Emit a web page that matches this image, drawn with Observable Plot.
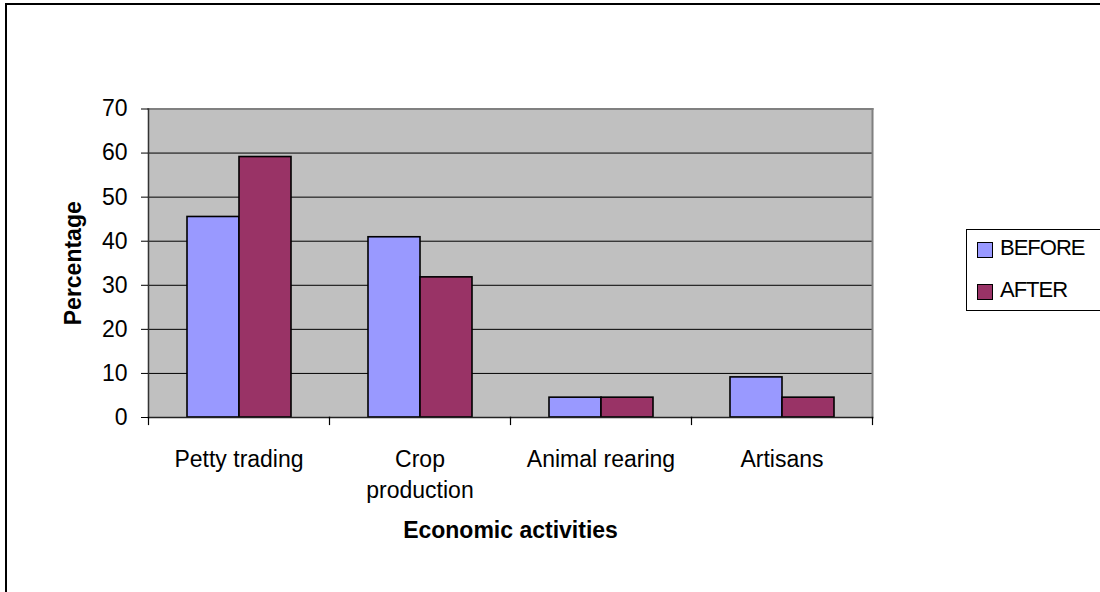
<!DOCTYPE html>
<html>
<head>
<meta charset="utf-8">
<script src="https://cdn.jsdelivr.net/npm/d3@7"></script>
<script src="https://cdn.jsdelivr.net/npm/@observablehq/plot@0.6"></script>
<style>
  html, body { margin: 0; padding: 0; background: #fff; overflow: hidden; }
  #page { position: relative; width: 1100px; height: 592px; overflow: hidden; }
  #edge { position: absolute; left: 5px; top: 3px; width: 1200px; height: 700px;
          border-left: 2px solid #000; border-top: 2px solid #000; }
  #chart { position: absolute; left: 0; top: 0; }
  #legend { position: absolute; left: 966px; top: 229px; width: 160px; height: 80px;
            border: 1.5px solid #000; background: #fff;
            font-family: "Liberation Sans", Arial, sans-serif; font-size: 22px; letter-spacing: -1px; }
  .item { position: absolute; left: 10px; display: flex; align-items: center; }
  .sw { width: 14px; height: 14px; border: 1.5px solid #000; margin-right: 7px; margin-top: 3px; }
</style>
</head>
<body>
<div id="page">
  <div id="edge"></div>
  <div id="chart"></div>
  <div id="legend"></div>
</div>
<script>
// Share of respondents by main economic activity, before and after
const categories = ["Petty trading", "Crop production", "Animal rearing", "Artisans"];
const tickLabels = ["Petty trading", "Crop\nproduction", "Animal rearing", "Artisans"];
const series = ["BEFORE", "AFTER"];
const colors = ["#9999FF", "#993366"];
const before = [45.5, 40.9, 4.5, 9.1];
const after = [59.1, 31.8, 4.5, 4.5];
const yTicks = [0, 10, 20, 30, 40, 50, 60, 70];

const rows = categories.flatMap((c, i) => [
  {category: c, series: "BEFORE", value: before[i]},
  {category: c, series: "AFTER", value: after[i]}
]);

const W = 1100, H = 592;
const mt = 108.5, mb = 175, ml = 148, mr = 228;
const innerH = H - mt - mb;

const chart = Plot.plot({
  width: W,
  height: H,
  marginTop: mt,
  marginBottom: mb,
  marginLeft: ml,
  marginRight: mr,
  style: {fontFamily: "'Liberation Sans', Arial, sans-serif", fontSize: "23px", color: "#000", background: "transparent", overflow: "visible"},
  fx: {domain: categories, padding: 0, label: null, axis: null},
  x: {domain: series, paddingInner: 0, paddingOuter: 0.73, axis: null},
  y: {domain: [0, 70], label: null},
  color: {domain: series, range: colors},
  marks: [
    // plot area background (slightly overlapped so facets join seamlessly) and gridlines
    Plot.frame({fill: "#C0C0C0", stroke: "none", insetLeft: -0.6, insetRight: -0.6}),
    Plot.ruleY(yTicks.filter(d => d > 0 && d < 70), {stroke: "#000", strokeWidth: 1}),
    Plot.frame({anchor: "top", stroke: "#808080", strokeWidth: 2}),
    Plot.frame({anchor: "right", facetAnchor: "right", stroke: "#808080", strokeWidth: 2}),
    // bars
    Plot.barY(rows, {fx: "category", x: "series", y: "value", fill: "series", stroke: "#000", strokeWidth: 1.6}),
    // axis lines and category boundary ticks
    Plot.frame({anchor: "left", facetAnchor: "left", stroke: "#333", strokeWidth: 1.5}),
    Plot.frame({anchor: "bottom", stroke: "#222", strokeWidth: 1.5}),
    Plot.frame({anchor: "left", insetTop: innerH, insetBottom: -7, stroke: "#000", strokeWidth: 1.2}),
    Plot.frame({anchor: "right", facetAnchor: "right", insetTop: innerH, insetBottom: -7, stroke: "#000", strokeWidth: 1.2}),
    Plot.axisY({ticks: yTicks, tickSize: 7, tickPadding: 14, tickFormat: d => String(d), label: null}),
    Plot.axisFx({anchor: "bottom", tickSize: 0, tickPadding: 28, lineHeight: 1.33, label: null,
                 tickFormat: d => tickLabels[categories.indexOf(d)]}),
    // axis titles
    Plot.text(["Percentage"], {frameAnchor: "left", facetAnchor: "left", dx: -75, rotate: -90,
                               textAnchor: "middle", lineAnchor: "middle", fontWeight: "bold"}),
    Plot.text([{category: categories[1], label: "Economic activities"}],
              {fx: "category", text: "label", frameAnchor: "bottom-right", textAnchor: "middle",
               lineAnchor: "middle", dy: 113.5, fontWeight: "bold"})
  ]
});
document.getElementById("chart").append(chart);

// legend
const legend = document.getElementById("legend");
series.forEach((s, i) => {
  const item = document.createElement("div");
  item.className = "item";
  item.style.top = (i === 0 ? 5 : 47) + "px";
  const sw = document.createElement("div");
  sw.className = "sw";
  sw.style.background = colors[i];
  const label = document.createElement("span");
  label.textContent = s;
  item.append(sw, label);
  legend.append(item);
});
</script>
</body>
</html>
